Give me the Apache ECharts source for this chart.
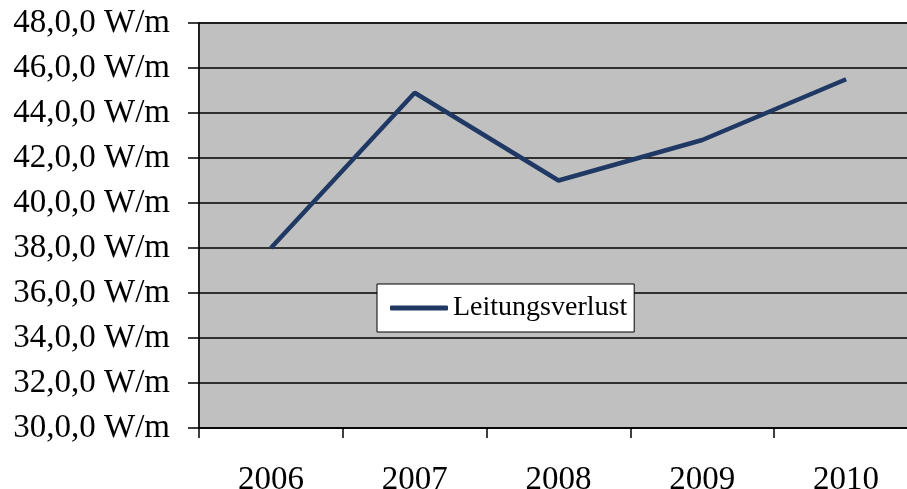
<!DOCTYPE html>
<html>
<head>
<meta charset="utf-8">
<script src="https://cdn.jsdelivr.net/npm/echarts@6/dist/echarts.min.js"></script>
<style>
html,body{margin:0;padding:0;background:#fff;}
#chart{width:907px;height:489px;}
</style>
</head>
<body>
<div id="chart"></div>
<script>
const categories = ['2006', '2007', '2008', '2009', '2010'];
const seriesName = 'Leitungsverlust';
const values = [38.0, 44.9, 41.0, 42.8, 45.5];
const yTickValues = [30, 32, 34, 36, 38, 40, 42, 44, 46, 48];
const yTickLabels = ['30,0,0 W/m', '32,0,0 W/m', '34,0,0 W/m', '36,0,0 W/m', '38,0,0 W/m',
                     '40,0,0 W/m', '42,0,0 W/m', '44,0,0 W/m', '46,0,0 W/m', '48,0,0 W/m'];

const font = 'Liberation Serif';
const lineColor = '#1f3864';
const chart = echarts.init(document.getElementById('chart'), null, {renderer: 'canvas'});
chart.setOption({
  animation: false,
  backgroundColor: '#ffffff',
  grid: {
    left: 199, top: 23, width: 719, height: 405,
    outerBoundsMode: 'none', containLabel: false,
    show: true, backgroundColor: '#c0c0c0', borderColor: '#808080', borderWidth: 2
  },
  legend: {
    left: 377, top: 284,
    data: [{name: seriesName, icon: 'roundRect'}],
    backgroundColor: '#ffffff',
    borderColor: '#000000', borderWidth: 1,
    padding: [10, 7, 10, 13],
    itemWidth: 58, itemHeight: 5, itemGap: 4,
    itemStyle: {color: lineColor, borderWidth: 0},
    textStyle: {fontFamily: font, fontSize: 28, color: '#000'}
  },
  xAxis: {
    type: 'category',
    data: categories,
    boundaryGap: true,
    axisLine: {lineStyle: {color: '#000', width: 1.5}},
    axisTick: {show: true, length: 10, lineStyle: {color: '#000', width: 1.5}},
    axisLabel: {fontFamily: font, fontSize: 33, color: '#000', margin: 36},
    splitLine: {show: false}
  },
  yAxis: {
    type: 'value',
    min: yTickValues[0], max: yTickValues[yTickValues.length - 1], interval: 2,
    axisLine: {show: true, lineStyle: {color: '#000', width: 1.5}},
    axisTick: {show: true, length: 11, lineStyle: {color: '#000', width: 1.5}},
    axisLabel: {
      fontFamily: font, fontSize: 33, color: '#000', margin: 29,
      formatter: function (v) {
        const i = yTickValues.indexOf(Math.round(v));
        return i >= 0 ? yTickLabels[i] : '';
      }
    },
    splitLine: {show: true, lineStyle: {color: '#000', width: 1.5}}
  },
  series: [{
    name: seriesName,
    type: 'line',
    data: values,
    symbol: 'none',
    lineStyle: {color: lineColor, width: 4.5},
    itemStyle: {color: lineColor}
  }]
});
</script>
</body>
</html>
